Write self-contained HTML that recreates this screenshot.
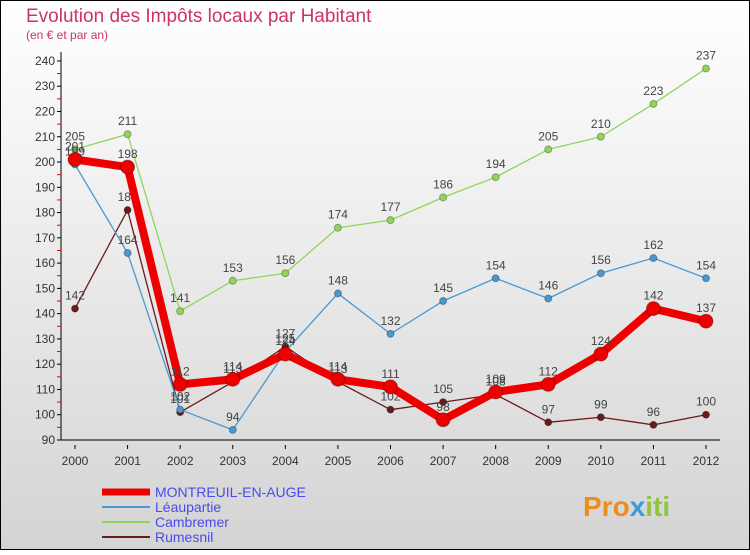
<!DOCTYPE html>
<html><head><meta charset="utf-8"><style>
body{margin:0;width:750px;height:550px;overflow:hidden;font-family:"Liberation Sans",sans-serif}
</style></head><body>
<svg id="c" width="750" height="550" xmlns="http://www.w3.org/2000/svg">
<defs><linearGradient id="bg" x1="0" y1="0" x2="0" y2="1"><stop offset="0" stop-color="#ffffff"/><stop offset="1" stop-color="#d4d4d4"/></linearGradient></defs>
<rect x="0.5" y="0.5" width="749" height="549" fill="url(#bg)" stroke="#000"/>
<text x="26" y="22" font-size="19" fill="#cc3366">Evolution des Impôts locaux par Habitant</text>
<text x="26" y="39" font-size="12" fill="#cc3366">(en € et par an)</text>
<g id="axes"></g><g id="series"></g><g id="legend"></g>
<text x="583" y="516" font-size="28" font-weight="bold" fill="#f08c1e">Pro<tspan fill="#3a9bd8">x</tspan><tspan fill="#8cc63f">iti</tspan></text>
</svg>
<script>
const years=[2000,2001,2002,2003,2004,2005,2006,2007,2008,2009,2010,2011,2012];
const yTicks=[90,100,110,120,130,140,150,160,170,180,190,200,210,220,230,240];
const montreuil=[201,198,112,114,124,114,111,98,109,112,124,142,137];
const leaupartie=[199,164,102,94,125,148,132,145,154,146,156,162,154];
const cambremer=[205,211,141,153,156,174,177,186,194,205,210,223,237];
const rumesnil=[142,181,101,113,127,113,102,105,108,97,99,96,100];
const NS="http://www.w3.org/2000/svg";
const X=i=>75+i*(706-75)/12;
const Y=v=>440-(v-90)*2.527;
function mk(t,a,p){const e=document.createElementNS(NS,t);for(const k in a)e.setAttribute(k,a[k]);p.appendChild(e);return e;}
const ax=document.getElementById('axes');
const yl=mk('line',{x1:61,y1:52,x2:61,y2:440,stroke:'#000'},ax);


const xl=mk('line',{x1:61,y1:440,x2:720,y2:440,stroke:'#000'},ax);


yTicks.forEach(v=>{
 mk('line',{x1:57,y1:Y(v),x2:61,y2:Y(v),stroke:'#000'},ax);
 if(v<240)mk('line',{x1:57,y1:Y(v+5),x2:61,y2:Y(v+5),stroke:'#e00'},ax);
 const t=mk('text',{x:55,y:Y(v)+4,'font-size':12,'text-anchor':'end',fill:'#333'},ax);t.textContent=v;
 
 
});
years.forEach((y,i)=>{
 mk('line',{x1:X(i),y1:445,x2:X(i),y2:449,stroke:'#000'},ax);
 const t=mk('text',{x:X(i),y:465,'font-size':12,'text-anchor':'middle',fill:'#333'},ax);t.textContent=y;
 
 
});
const sg=document.getElementById('series');
const series=[
 {n:'rumesnil',d:rumesnil,c:'#6b1a1a',w:1.3,r:3.5,label:'Rumesnil'},
 {n:'cambremer',d:cambremer,c:'#8fd65a',w:1.3,r:3.5,label:'Cambremer'},
 {n:'leaupartie',d:leaupartie,c:'#4a98d0',w:1.3,r:3.5,label:'Léaupartie'},
 {n:'montreuil',d:montreuil,c:'#ee0000',w:8,r:7,label:'MONTREUIL-EN-AUGE'}];
series.forEach(s=>{
 const g=mk('g',{},sg);
 
 
 const pl=mk('polyline',{points:s.d.map((v,i)=>X(i)+','+Y(v)).join(' '),fill:'none',stroke:s.c,'stroke-width':s.w,'stroke-linejoin':'round'},g);
 
 
 s.d.forEach((v,i)=>{
  const p=mk('circle',{cx:X(i),cy:Y(v),r:s.r,fill:s.c,stroke:'rgba(0,0,0,0.3)'},g);
  
  
  const t=mk('text',{x:X(i),y:Y(v)-9,'font-size':12,'text-anchor':'middle',fill:'#444'},g);t.textContent=v;
  
  
 });
});
const lg=document.getElementById('legend');
[series[3],series[2],series[1],series[0]].forEach((s,i)=>{
 const y=492+i*15;
 const g=mk('g',{},lg);
 
 
 mk('line',{x1:102,y1:y,x2:150,y2:y,stroke:s.c,'stroke-width':s.w>2?7:2},g);
 const t=mk('text',{x:155,y:y+5,'font-size':14,fill:'#4a4aee'},g);t.textContent=s.label;
});
</script>
</body></html>
